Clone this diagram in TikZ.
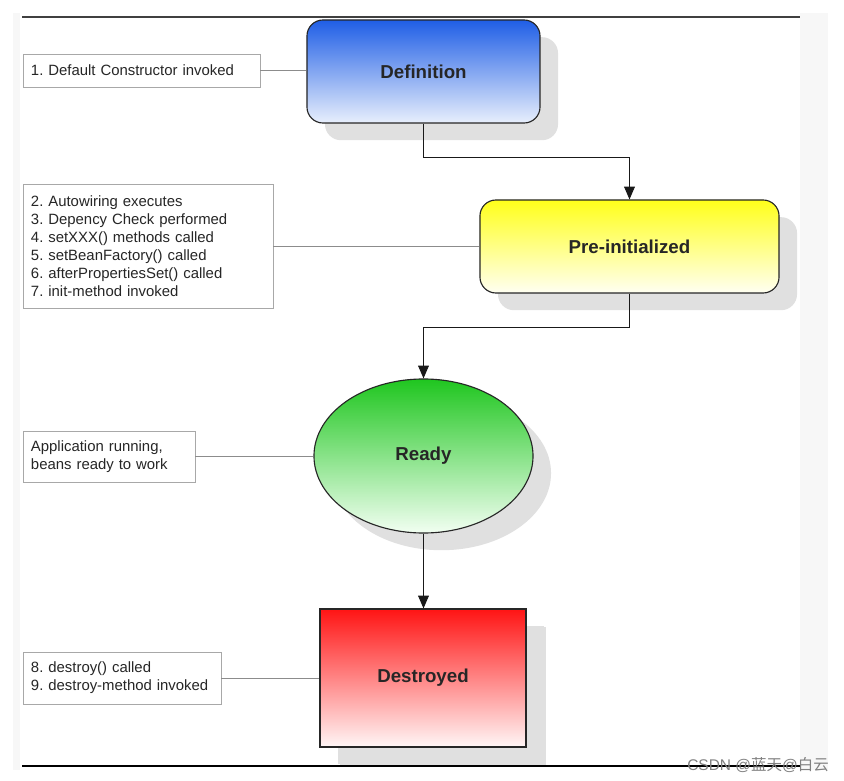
\documentclass[tikz,border=0pt]{standalone}
\usepackage{fontspec}
\setmainfont{Liberation Sans}
\newfontfamily\cjk{Noto Sans CJK SC}
\usetikzlibrary{arrows.meta,shapes.geometric,shadows}
\frenchspacing
\definecolor{defblue}{HTML}{1F5EE6}
\definecolor{defpale}{HTML}{E8EFFC}
\definecolor{preyellow}{HTML}{FFFF1A}
\definecolor{prepale}{HTML}{FFFFF2}
\definecolor{readygreen}{HTML}{1FC61F}
\definecolor{readypale}{HTML}{F2FFF2}
\definecolor{destred}{HTML}{FF1414}
\definecolor{destpale}{HTML}{FFF6F6}
\definecolor{notegray}{HTML}{A8A8A8}

\begin{document}
\begin{tikzpicture}[x=0.025cm, y=-0.025cm,
		state/.style={draw=black!85, line width=0.8pt, font=\bfseries\fontsize{13.3pt}{15pt}\selectfont,
			text=black!85, inner sep=0pt,
			drop shadow={shadow xshift=0.45cm, shadow yshift=-0.43cm, fill=black!12, opacity=1}},
		note/.style={draw=notegray, line width=0.6pt, fill=white, align=left, inner xsep=0.2cm,
			font=\fontsize{10.6pt}{12.8pt}\selectfont, text=black!85},
		flow/.style={draw=black!90, line width=0.7pt, -{Triangle[length=3.2mm, width=2.7mm]}},
		link/.style={draw=black!45, line width=0.5pt}]

		% page
		\useasboundingbox (0,0) rectangle (844,781);
		\fill[black!3] (13,13) rectangle (828,770);
		\fill[white] (20,13) rectangle (800,770);
		\draw[black!75, line width=1.6pt] (22,17) -- (800,17);
		\draw[black, line width=1.8pt] (22,766) -- (800,766);

		% states
		\node[state, rounded corners=0.4cm, top color=defblue, bottom color=defpale,
			minimum width=5.825cm, minimum height=2.575cm] (def) at (423.5,71.5) {Definition};
		\node[state, rounded corners=0.4cm, top color=preyellow, bottom color=prepale,
			minimum width=7.475cm, minimum height=2.325cm] (pre) at (629.5,246.5) {Pre-initialized};
		\node[state, ellipse, top color=readygreen, bottom color=readypale,
			minimum width=5.475cm, minimum height=3.85cm] (ready) at (423.5,456) {Ready};
		\node[state, top color=destred, bottom color=destpale,
			drop shadow={shadow xshift=0.5cm, shadow yshift=-0.45cm, fill=black!12, opacity=1},
			minimum width=5.15cm, minimum height=3.45cm] (dest) at (423,678) {Destroyed};

		% notes
		\node[note, text width=5.525cm, minimum height=0.825cm] (n1) at (141.5,70.5)
			{1. Default Constructor invoked};
		\node[note, text width=5.85cm, minimum height=3.1cm] (n2) at (148,246)
			{2. Autowiring executes\\3. Depency Check performed\\4. setXXX() methods called\\
			5. setBeanFactory() called\\6. afterPropertiesSet() called\\7. init-method invoked};
		\node[note, text width=3.9cm, minimum height=1.275cm] (n3) at (109,456.5)
			{Application running,\\beans ready to work};
		\node[note, text width=4.55cm, minimum height=1.3cm] (n4) at (122,678)
			{8. destroy() called\\9. destroy-method invoked};

		\draw[link] (n1.east) -- (n1.east -| def.west);
		\draw[link] (n2.east) -- (n2.east -| pre.west);
		\draw[link] (n3.east) -- (n3.east -| ready.west);
		\draw[link] (n4.east) -- (n4.east -| dest.west);

		% transitions
		\draw[flow] (def.south) -- (def.south |- 0,157) -| (pre.north);
		\draw[flow] (pre.south) -- (pre.south |- 0,327) -| (ready.north);
		\draw[flow] (ready.south) -- (dest.north -| ready.south);

		\node[text=black!50, font=\fontsize{11pt}{13pt}\selectfont, anchor=east, inner sep=0pt] (mark) at (829,765)
			{CSDN @{\cjk 蓝天}@{\cjk 白云}};
	\end{tikzpicture}
\end{document}
